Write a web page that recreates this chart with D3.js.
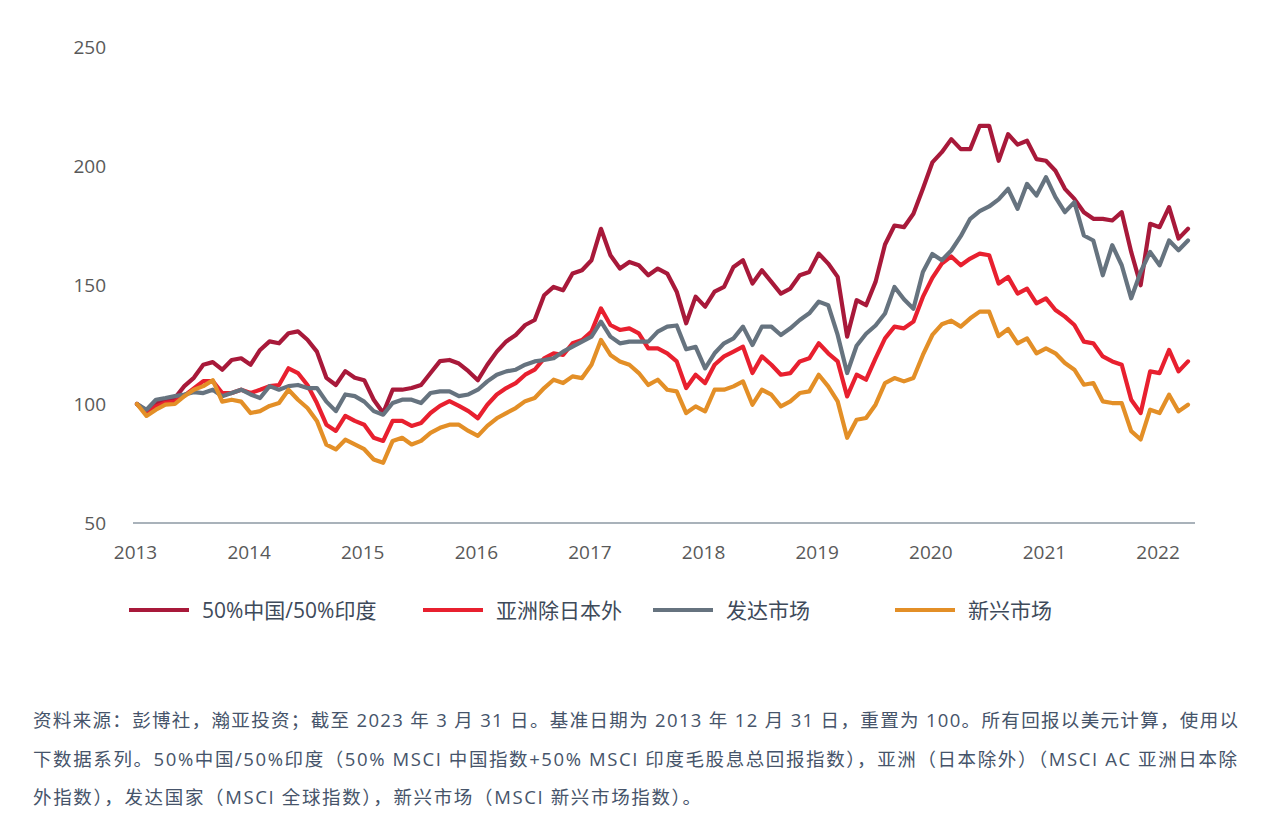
<!DOCTYPE html>
<html>
<head>
<meta charset="utf-8">
<script src="https://cdn.jsdelivr.net/npm/d3@7"></script>
<style>
  html, body { margin: 0; padding: 0; background: #ffffff; }
  svg { display: block; }
</style>
</head>
<body>
<svg id="chart" width="1288" height="822"></svg>
<script>
// ---- Data (monthly, index = months since start, rebased to 100) ----
const startYear = 2013;
const yearTicks = [2013, 2014, 2015, 2016, 2017, 2018, 2019, 2020, 2021, 2022];
const yTicks = [50, 100, 150, 200, 250];

const seriesNames = ["50%中国/50%印度", "亚洲除日本外", "发达市场", "新兴市场"];
const seriesColors = ["#a8193a", "#e8202f", "#66737f", "#e38f27"];

const chinaIndia = [100,97,100.5,101,102.5,107.5,111,116.5,117.6,114.4,118.5,119.2,116.5,122.7,126.3,125.5,129.7,130.5,127,122,
  111,108,113.8,111,110,101.8,96.2,106,106,106.7,108,113,118,118.5,117,113.8,110,116.5,122,126.3,
  129,133.2,135.3,145.7,149.2,147.8,154.8,156.2,160.4,173.6,162.5,156.9,159.7,158.3,154.1,156.9,154.8,147.2,133.9,145.1,
  140.9,147.2,149.2,157.6,160.4,150.6,156.2,151.3,146.4,148.5,154.1,155.5,163.2,159,153.4,128.3,143.6,141.5,151.3,167,
  175,174.3,179.9,190.4,201.5,205.8,211.3,207.1,207.1,216.9,216.9,202.2,213.4,209,210.6,202.9,202.2,198,190.4,186.2,
  180.6,177.8,177.8,177.1,180.6,163.9,149.9,175.7,174.3,182.7,169.5,173.6];

const asiaExJapan = [100,96,99,100.5,101,103.5,106.5,109.6,109.6,104.6,104.6,106,104.6,106,107.5,108,115,113,108,100.4,
  91.3,88.7,95,92.9,91.3,85.8,84.5,92.9,92.9,90.8,92,96.2,99.2,101.2,99.2,97,94,99.7,104,106.7,
  108.8,112.3,114.4,119.2,121.3,120.6,125.5,126.9,130.4,140.2,133.2,131.1,131.8,129.7,123.4,123.4,121.3,117.9,106.7,112.3,
  108.8,116.5,120,122,124.1,113,120,116.5,112.3,113,117.9,119.2,125.5,121.3,117.9,103.2,112.3,110.2,119.2,127.6,
  132.5,131.8,134.6,145,153,159,162,158.3,161.1,163.2,162.5,150.6,153.4,146.4,148.5,142.3,144.4,139.5,136.7,133.2,
  126.2,125.5,120,117.9,116.5,101.8,96.2,113.7,113,122.7,113.7,117.9];

const developed = [100,97.6,101.8,102.5,103.3,104,105,104.6,106,103.3,104.6,106,104,102.5,107.5,106,107.5,108,106.7,106.7,
  101,97,104,103.3,101,97,95.5,100.4,101.8,101.8,100.4,104.6,105.3,105.3,103.3,104,106,109.5,112.3,113.7,
  114.4,116.5,117.9,118.5,119.2,122,124.1,126.2,128.3,134.6,128.3,125.5,126.2,126.2,126.2,130.4,132.5,133,123,124,
  115,121.3,125.5,127.6,132.5,124.8,132.5,132.5,129,131.8,135.3,138.1,143,141.5,129,113,124.5,129.5,133,138,
  149.2,144,140,155.5,163,160.4,164.5,170.5,177.8,181,183,186,190.4,182,192.5,187.6,195.3,186.9,180.6,184.8,
  170.8,168.7,154.1,166.7,158.3,144.4,155.5,163.9,158.3,168.7,164.6,168.7];

const emerging = [100,95,97.6,99.7,100,103.3,106,107.5,110,101,101.8,101,96.2,97,99.2,100.4,106,101.8,98.3,92.9,
  82.9,80.9,85,83,81,76.7,75.3,84.5,85.8,83,84.5,87.9,90,91.3,91.3,88.7,86.6,90.8,94,96.2,
  98.3,101.2,102.5,106.7,110.2,108.8,111.6,110.9,116.5,126.9,120.6,117.9,116.5,113,108,110.2,106,105.3,96.2,99,
  96.9,106,106,107.4,109.5,99.7,106,103.9,99,101.1,104.6,105.3,112.3,107.4,101.1,85.8,93.4,94.1,99.7,108.8,
  110.9,109.5,110.9,120.6,129,133.5,135,132.5,136,138.8,138.8,128.5,131.5,125.5,127.6,121.3,123.4,121.3,117.2,114.4,
  108.1,108.8,101.1,100.4,100.4,88.6,85.1,97.6,96.2,103.9,96.9,99.7];

const footnoteLines = [
  "资料来源：彭博社，瀚亚投资；截至 2023 年 3 月 31 日。基准日期为 2013 年 12 月 31 日，重置为 100。所有回报以美元计算，使用以",
  "下数据系列。50%中国/50%印度（50% MSCI 中国指数+50% MSCI 印度毛股息总回报指数），亚洲（日本除外）（MSCI AC 亚洲日本除",
  "外指数），发达国家（MSCI 全球指数），新兴市场（MSCI 新兴市场指数）。"
];
const footnoteWidths = [1205, 1204, 668];

// ---- Drawing ----
const allSeries = [chinaIndia, asiaExJapan, developed, emerging];
const svg = d3.select("#chart");
const FONT = "'Open Sans', 'Noto Sans CJK SC', sans-serif";

const nPts = chinaIndia.length;
const x = d3.scaleLinear().domain([startYear, startYear + (nPts - 1) / 12]).range([137, 1188]);
const y = d3.scaleLinear().domain([50, 250]).range([523, 47]);

// baseline axis line
svg.append("line")
  .attr("x1", 133).attr("x2", 1195)
  .attr("y1", y(50)).attr("y2", y(50))
  .attr("stroke", "#a9b2ba").attr("stroke-width", 2);

// y axis labels
const yAxis = d3.axisLeft(y).tickValues(yTicks).tickSize(0).tickPadding(0).tickFormat(d3.format("d"));
const gy = svg.append("g").attr("transform", "translate(106,0)").call(yAxis);
gy.select(".domain").remove();
gy.selectAll("text").attr("font-family", FONT).attr("font-size", 19).attr("fill", "#595959");

// x axis labels
const xAxis = d3.axisBottom(x).tickValues(yearTicks).tickSize(0).tickPadding(0).tickFormat(d3.format("d"));
const gx = svg.append("g").attr("transform", "translate(-2,545)").call(xAxis);
gx.select(".domain").remove();
gx.selectAll("text").attr("font-family", FONT).attr("font-size", 19).attr("fill", "#595959");

// lines
const line = d3.line()
  .x((d, i) => x(startYear + i / 12))
  .y(d => y(d))
  .curve(d3.curveLinear);

allSeries.forEach((s, k) => {
  svg.append("path")
    .datum(s)
    .attr("fill", "none")
    .attr("stroke", seriesColors[k])
    .attr("stroke-width", 4.2)
    .attr("stroke-linejoin", "round")
    .attr("stroke-linecap", "round")
    .attr("d", line);
});

// legend
const legendX = [129, 423, 653, 895];
const legend = svg.append("g");
seriesNames.forEach((name, k) => {
  legend.append("line")
    .attr("x1", legendX[k]).attr("x2", legendX[k] + 60)
    .attr("y1", 610).attr("y2", 610)
    .attr("stroke", seriesColors[k]).attr("stroke-width", 4);
  legend.append("text")
    .attr("x", legendX[k] + 73).attr("y", 618)
    .attr("font-family", FONT).attr("font-size", 21)
    .attr("fill", "#3e4a5a")
    .text(name);
});

// footnote
footnoteLines.forEach((t, i) => {
  const tx = svg.append("text")
    .attr("x", 33).attr("y", 727 + i * 38.5)
    .attr("font-family", FONT).attr("font-size", 18.5).attr("fill", "#46546a")
    .text(t);
  if (footnoteWidths[i]) tx.attr("textLength", footnoteWidths[i]).attr("lengthAdjust", "spacing");
});
</script>
</body>
</html>
